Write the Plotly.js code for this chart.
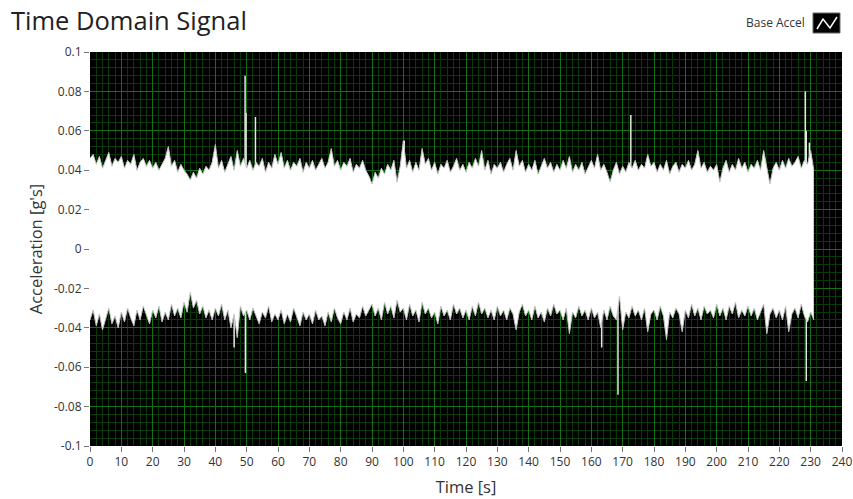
<!DOCTYPE html>
<html>
<head>
<meta charset="utf-8">
<script src="https://cdn.plot.ly/plotly-3.0.1.min.js"></script>
<style>html,body{margin:0;padding:0;background:#fff;}#chart{width:853px;height:499px;}</style>
</head>
<body>
<div id="chart"></div>
<script>
// Upper envelope of the signal, one value per second (t = 0 .. 231 s)
var upperEnv = [
 0.046,0.048,0.043,0.047,0.041,0.045,0.049,0.042,0.046,0.044,
 0.047,0.041,0.045,0.043,0.048,0.040,0.044,0.046,0.042,0.045,
 0.041,0.044,0.040,0.043,0.046,0.052,0.042,0.045,0.039,0.043,
 0.040,0.038,0.035,0.039,0.036,0.041,0.038,0.042,0.040,0.044,
 0.053,0.041,0.045,0.039,0.043,0.047,0.040,0.050,0.042,0.046,
 0.041,0.045,0.040,0.044,0.042,0.046,0.039,0.044,0.041,0.048,
 0.043,0.049,0.041,0.045,0.040,0.044,0.042,0.046,0.039,0.044,
 0.041,0.045,0.040,0.043,0.046,0.041,0.044,0.051,0.042,0.045,
 0.040,0.044,0.042,0.046,0.039,0.043,0.041,0.045,0.040,0.037,
 0.033,0.039,0.036,0.041,0.038,0.043,0.040,0.045,0.034,0.042,
 0.055,0.041,0.045,0.039,0.044,0.040,0.051,0.043,0.046,0.040,
 0.044,0.038,0.043,0.041,0.045,0.039,0.042,0.046,0.040,0.043,
 0.039,0.044,0.041,0.046,0.042,0.050,0.040,0.045,0.038,0.043,
 0.041,0.044,0.039,0.043,0.046,0.040,0.050,0.042,0.045,0.039,
 0.043,0.040,0.045,0.038,0.042,0.046,0.041,0.044,0.039,0.043,
 0.040,0.045,0.041,0.047,0.039,0.043,0.040,0.044,0.038,0.042,
 0.045,0.041,0.048,0.040,0.043,0.039,0.034,0.040,0.044,0.038,
 0.042,0.039,0.044,0.041,0.045,0.040,0.043,0.041,0.048,0.042,
 0.044,0.039,0.043,0.040,0.045,0.038,0.042,0.044,0.039,0.043,
 0.041,0.045,0.040,0.043,0.050,0.041,0.044,0.039,0.042,0.040,
 0.043,0.034,0.041,0.045,0.039,0.043,0.040,0.046,0.041,0.044,
 0.039,0.043,0.041,0.045,0.040,0.050,0.042,0.033,0.041,0.044,
 0.040,0.045,0.041,0.046,0.042,0.044,0.047,0.041,0.045,0.043,
 0.050,0.040
];
// Lower envelope of the signal, one value per second (t = 0 .. 231 s)
var lowerEnv = [
 -0.036,-0.031,-0.039,-0.033,-0.041,-0.035,-0.030,-0.038,-0.034,-0.040,
 -0.032,-0.037,-0.030,-0.035,-0.039,-0.031,-0.036,-0.029,-0.034,-0.038,
 -0.031,-0.035,-0.029,-0.037,-0.032,-0.036,-0.028,-0.034,-0.030,-0.035,
 -0.027,-0.032,-0.022,-0.030,-0.026,-0.033,-0.029,-0.035,-0.031,-0.036,
 -0.030,-0.034,-0.028,-0.036,-0.031,-0.040,-0.033,-0.045,-0.029,-0.034,
 -0.031,-0.036,-0.030,-0.034,-0.038,-0.032,-0.035,-0.029,-0.037,-0.033,
 -0.036,-0.031,-0.038,-0.033,-0.037,-0.030,-0.035,-0.039,-0.032,-0.036,
 -0.033,-0.038,-0.031,-0.036,-0.034,-0.039,-0.032,-0.037,-0.030,-0.035,
 -0.038,-0.032,-0.036,-0.030,-0.037,-0.033,-0.035,-0.029,-0.034,-0.031,
 -0.028,-0.034,-0.030,-0.036,-0.027,-0.033,-0.029,-0.035,-0.026,-0.032,
 -0.030,-0.036,-0.028,-0.034,-0.031,-0.037,-0.027,-0.033,-0.030,-0.035,
 -0.032,-0.038,-0.029,-0.034,-0.031,-0.036,-0.028,-0.033,-0.030,-0.035,
 -0.031,-0.036,-0.029,-0.034,-0.027,-0.033,-0.030,-0.035,-0.031,-0.036,
 -0.029,-0.034,-0.031,-0.036,-0.030,-0.033,-0.041,-0.032,-0.028,-0.034,
 -0.031,-0.036,-0.029,-0.035,-0.032,-0.037,-0.030,-0.034,-0.028,-0.033,
 -0.031,-0.036,-0.030,-0.043,-0.032,-0.035,-0.029,-0.034,-0.031,-0.036,
 -0.030,-0.035,-0.032,-0.040,-0.031,-0.036,-0.029,-0.034,-0.036,-0.024,
 -0.041,-0.032,-0.035,-0.029,-0.034,-0.031,-0.036,-0.030,-0.042,-0.033,
 -0.031,-0.036,-0.029,-0.034,-0.046,-0.032,-0.035,-0.030,-0.033,-0.042,
 -0.031,-0.035,-0.028,-0.034,-0.030,-0.036,-0.029,-0.033,-0.031,-0.035,
 -0.028,-0.034,-0.030,-0.036,-0.029,-0.033,-0.027,-0.035,-0.031,-0.034,
 -0.029,-0.034,-0.030,-0.036,-0.032,-0.028,-0.043,-0.033,-0.030,-0.035,
 -0.031,-0.036,-0.029,-0.042,-0.033,-0.030,-0.035,-0.028,-0.034,-0.037,
 -0.032,-0.036
];
// Isolated spikes: time [s] and peak acceleration [g's]
var spikeTime  = [49.5, 49.8, 52.8, 100.3, 172.6, 228.3, 228.6, 229.6, 46.0, 49.6, 163.3, 168.5, 228.6];
var spikeValue = [0.088, 0.069, 0.067, 0.055, 0.068, 0.080, 0.060, 0.054, -0.050, -0.063, -0.050, -0.074, -0.067];

var xTickVals = [0,10,20,30,40,50,60,70,80,90,100,110,120,130,140,150,160,170,180,190,200,210,220,230,240];
var yTickVals = [0.1,0.08,0.06,0.04,0.02,0,-0.02,-0.04,-0.06,-0.08,-0.1];
var yTickText = ["0.1","0.08","0.06","0.04","0.02","0","-0.02","-0.04","-0.06","-0.08","-0.1"];

var sampleStep = 1; // seconds between envelope samples
var timeAxis = [];
for (var i = 0; i < upperEnv.length; i++) timeAxis.push(i * sampleStep);

var sx = [], sy = [];
for (var k = 0; k < spikeTime.length; k++) {
  sx.push(spikeTime[k], spikeTime[k], null);
  sy.push(0, spikeValue[k], null);
}

var font = "'Open Sans', 'Noto Sans', sans-serif";

var traces = [
  {x: sx, y: sy, type: 'scatter', mode: 'lines',
   line: {color: '#e6e6e6', width: 1.5}, hoverinfo: 'skip', showlegend: false},
  {x: timeAxis, y: lowerEnv, type: 'scatter', mode: 'lines',
   line: {color: '#c4c4c4', width: 1}, hoverinfo: 'skip', showlegend: false},
  {x: timeAxis, y: upperEnv, type: 'scatter', mode: 'lines', fill: 'tonexty',
   fillcolor: '#ffffff', line: {color: '#c4c4c4', width: 1}, hoverinfo: 'skip', showlegend: false}
];

function px2x(p) { return (p - 90) / 752; }
function py2y(p) { return (446 - p) / 394; }

var layout = {
  width: 853, height: 499,
  margin: {l: 90, r: 11, t: 52, b: 53},
  paper_bgcolor: '#ffffff',
  plot_bgcolor: '#000000',
  showlegend: false,
  font: {family: font, color: '#333333', size: 12},
  title: {text: 'Time Domain Signal', font: {family: font, size: 25.5, color: '#222222'},
          xref: 'container', yref: 'container', x: 11/853, xanchor: 'left', y: 1 - 21/499, yanchor: 'middle'},
  xaxis: {
    range: [0, 240], tickvals: xTickVals, ticks: 'outside', ticklen: 5, tickcolor: '#777777',
    showgrid: true, gridcolor: '#137013', gridwidth: 1, zeroline: false, showline: false,
    minor: {dtick: 2, showgrid: true, gridcolor: '#083a08', gridwidth: 1},
    tickfont: {family: font, size: 12, color: '#333333'},
    title: {text: 'Time [s]', font: {family: font, size: 16.5, color: '#333333'}, standoff: 12},
    fixedrange: true
  },
  yaxis: {
    range: [-0.1, 0.1], tickvals: yTickVals, ticktext: yTickText, ticks: 'outside', ticklen: 5, tickcolor: '#777777',
    showgrid: true, gridcolor: '#137013', gridwidth: 1, zeroline: false, showline: false,
    minor: {dtick: 0.004, showgrid: true, gridcolor: '#083a08', gridwidth: 1},
    tickfont: {family: font, size: 12, color: '#333333'},
    title: {text: "Acceleration [g's]", font: {family: font, size: 16.5, color: '#333333'}, standoff: 7},
    fixedrange: true
  },
  annotations: [
    {text: 'Base Accel', xref: 'paper', yref: 'paper', x: px2x(807), y: py2y(23),
     xanchor: 'right', yanchor: 'middle', showarrow: false,
     font: {family: font, size: 12, color: '#333333'}}
  ],
  shapes: [
    {type: 'rect', xref: 'paper', yref: 'paper', x0: px2x(813), x1: px2x(840), y0: py2y(33), y1: py2y(13),
     fillcolor: '#000000', line: {color: '#666666', width: 1}},
    {type: 'path', xref: 'paper', yref: 'paper',
     path: 'M' + px2x(817) + ',' + py2y(29) + ' L' + px2x(823) + ',' + py2y(19) + ' L' + px2x(830) + ',' + py2y(28) + ' L' + px2x(837) + ',' + py2y(17),
     line: {color: '#ffffff', width: 1.5}}
  ]
};

Plotly.newPlot('chart', traces, layout, {staticPlot: true, displayModeBar: false});
</script>
</body>
</html>
